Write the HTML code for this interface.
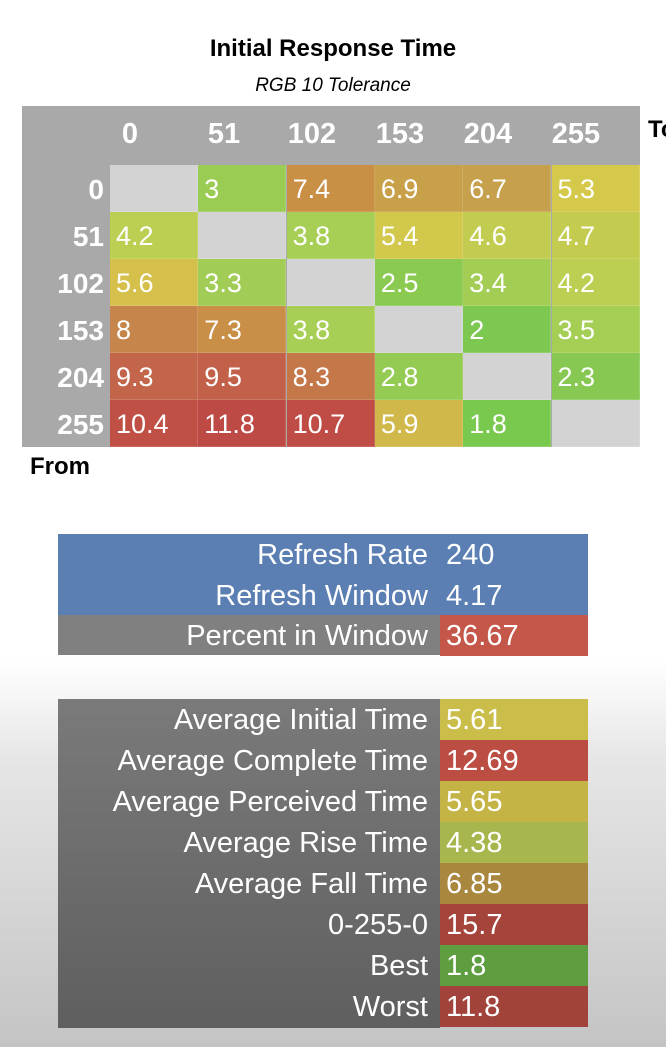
<!DOCTYPE html>
<html><head><meta charset="utf-8"><style>
*{margin:0;padding:0;box-sizing:border-box}
body{width:666px;height:1047px;overflow:hidden;position:relative;font-family:"Liberation Sans",sans-serif;
background:linear-gradient(to bottom,#fff 0,#fff 660px,#e6e6e6 760px,#c4c4c4 1047px)}
.a{position:absolute}
.t{left:0;width:666px;text-align:center}
.hm{left:22px;top:106px;width:618px;height:341px;background:#a9a9a9}
.c{position:absolute;width:88px;height:47px;color:#fff;font-size:27px;line-height:49px;padding-left:6px;border-right:1px solid rgba(255,255,255,.15);border-bottom:1px solid rgba(255,255,255,.15)}
.h{position:absolute;color:#fff;font-weight:bold;font-size:29px;text-align:center;width:88px;top:12px}
.r{position:absolute;color:#fff;font-weight:bold;font-size:28px;text-align:right;width:82px;left:0}
.row{position:absolute;left:58px;width:530px;height:41px;font-size:29px;line-height:43px;color:#fff}
.row .l{position:absolute;left:0;width:382px;height:41px;text-align:right;padding-right:12px;white-space:nowrap}
.row .v{position:absolute;left:382px;width:148px;height:41px;padding-left:6px}
</style></head><body>
<div class="a t" style="top:35px;font-weight:bold;font-size:24px">Initial Response Time</div>
<div class="a t" style="top:75px;font-style:italic;font-size:19px">RGB 10 Tolerance</div>
<div class="a hm">
<div class="h" style="left:64px">0</div><div class="h" style="left:158px">51</div><div class="h" style="left:246px">102</div><div class="h" style="left:334px">153</div><div class="h" style="left:422px">204</div><div class="h" style="left:510px">255</div>
<div class="r" style="top:68px">0</div><div class="r" style="top:115px">51</div><div class="r" style="top:162px">102</div><div class="r" style="top:209px">153</div><div class="r" style="top:256px">204</div><div class="r" style="top:303px">255</div>
</div>
<div class="a" style="left:648px;top:116px;font-weight:bold;font-size:24px">To</div>
<div class="a" style="left:30px;top:453px;font-weight:bold;font-size:24px">From</div>
<div id="g"></div>
<script>
var d=[[["","#d3d3d3"],["3","#9acb52"],["7.4","#c98f45"],["6.9","#c9a04a"],["6.7","#c6a04c"],["5.3","#d4c94a"]],
[["4.2","#bccf52"],["","#d3d3d3"],["3.8","#a8cf55"],["5.4","#d2c84c"],["4.6","#c2cc50"],["4.7","#c4cc4f"]],
[["5.6","#d4c04a"],["3.3","#a1cc55"],["","#d3d3d3"],["2.5","#8bca50"],["3.4","#a3cd55"],["4.2","#bccf52"]],
[["8","#c6854a"],["7.3","#c98f47"],["3.8","#a8cf55"],["","#d3d3d3"],["2","#7dc850"],["3.5","#a5ce55"]],
[["9.3","#c2654a"],["9.5","#c2604a"],["8.3","#c47748"],["2.8","#94cb52"],["","#d3d3d3"],["2.3","#86c851"]],
[["10.4","#c04f45"],["11.8","#bd4a44"],["10.7","#bf4d45"],["5.9","#d0b84b"],["1.8","#7ac94f"],["","#d3d3d3"]]];
var h="";for(var i=0;i<6;i++)for(var j=0;j<6;j++)h+='<div class="c" style="left:'+(110+j*88.3)+'px;top:'+(165+i*47)+'px;background:'+d[i][j][1]+'">'+d[i][j][0]+'</div>';
document.getElementById("g").innerHTML=h;
</script>
<div class="row" style="top:534px;background:#5b7fb3"><div class="l">Refresh Rate</div><div class="v">240</div></div>
<div class="row" style="top:575px;background:#5b7fb3"><div class="l">Refresh Window</div><div class="v">4.17</div></div>
<div class="row" style="top:615px;height:40px;background:#808080"><div class="l">Percent in Window</div><div class="v" style="background:#c4574a">36.67</div></div>
<div class="a" style="left:58px;top:699px;width:382px;height:329px;background:linear-gradient(#7a7a7a,#5f5f5f)"></div>
<div class="row" style="top:699px"><div class="l">Average Initial Time</div><div class="v" style="background:#cbbd4a">5.61</div></div>
<div class="row" style="top:740px"><div class="l">Average Complete Time</div><div class="v" style="background:#bb4d42">12.69</div></div>
<div class="row" style="top:781px"><div class="l">Average Perceived Time</div><div class="v" style="background:#c4b446">5.65</div></div>
<div class="row" style="top:822px"><div class="l">Average Rise Time</div><div class="v" style="background:#a9b64e">4.38</div></div>
<div class="row" style="top:863px"><div class="l">Average Fall Time</div><div class="v" style="background:#aa873e">6.85</div></div>
<div class="row" style="top:904px"><div class="l">0-255-0</div><div class="v" style="background:#a5443a">15.7</div></div>
<div class="row" style="top:945px"><div class="l">Best</div><div class="v" style="background:#5e9e40">1.8</div></div>
<div class="row" style="top:986px"><div class="l">Worst</div><div class="v" style="background:#a1433a">11.8</div></div>
</body></html>
